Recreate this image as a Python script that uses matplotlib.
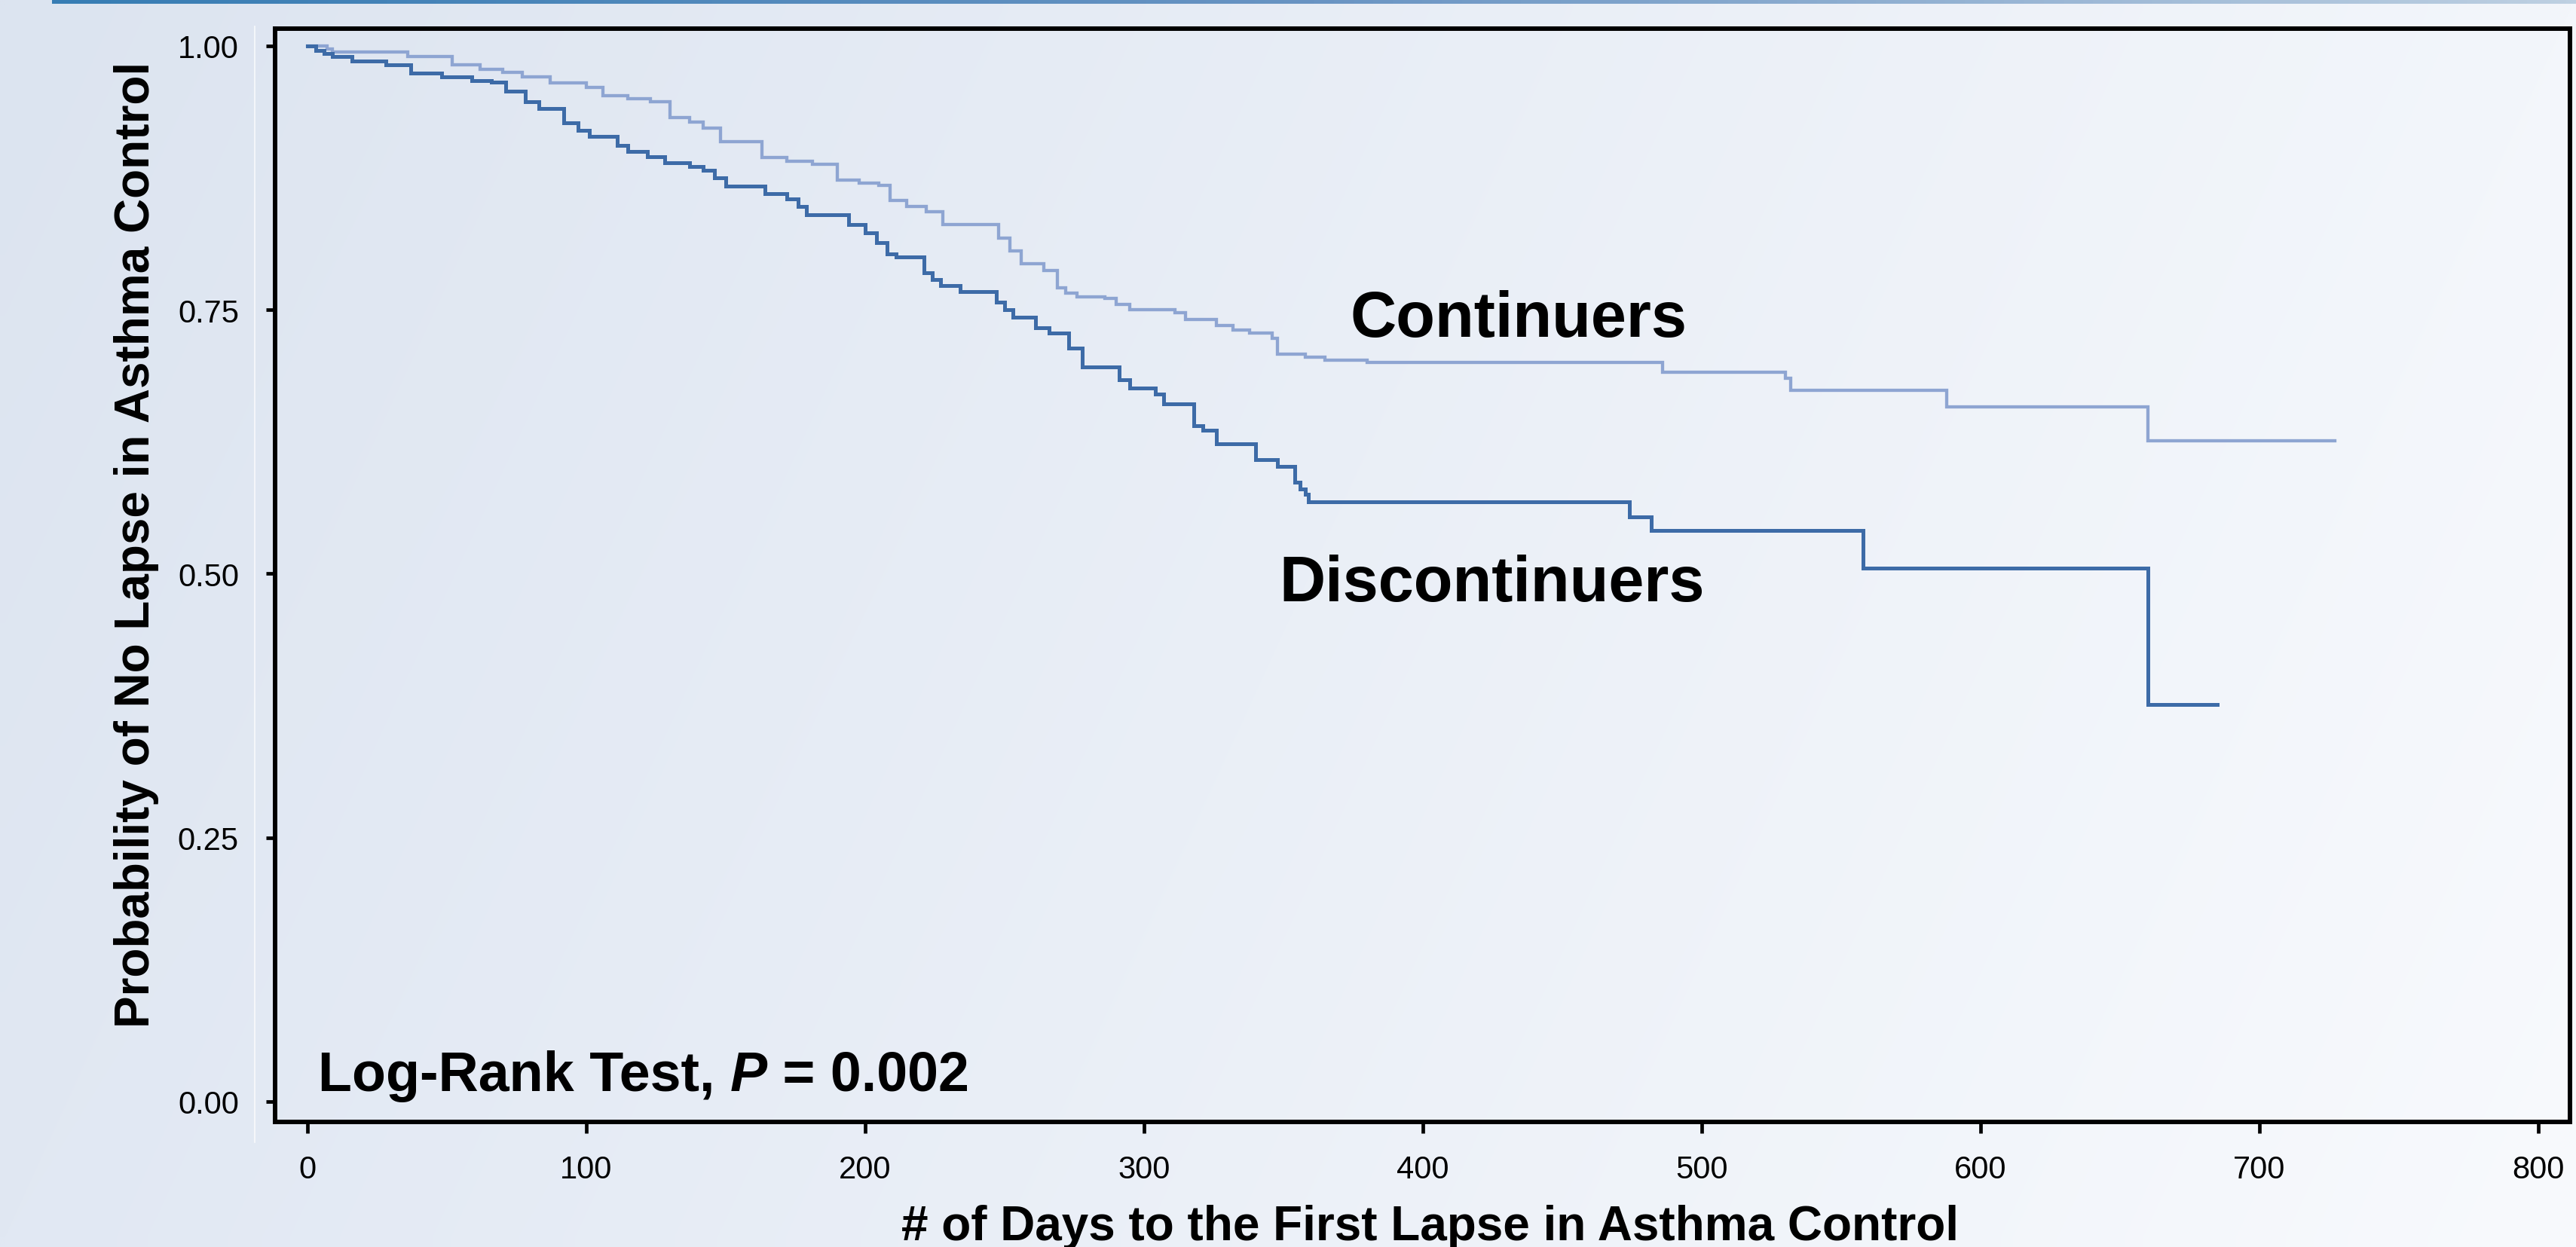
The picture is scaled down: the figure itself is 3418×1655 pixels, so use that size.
import numpy as np
import matplotlib
matplotlib.use("Agg")
import matplotlib.pyplot as plt
from matplotlib.lines import Line2D

# ---------------- data ----------------
cont_days = [0, 7, 9, 36, 52, 62, 70, 77, 87, 100, 106, 115, 123, 130, 137, 142,
             148, 163, 172, 181, 190, 198, 205, 209, 215, 222, 228, 248, 252, 256,
             264, 269, 272, 276, 286, 290, 295, 311, 315, 326, 332, 338, 346, 348,
             358, 365, 380, 486, 530, 532, 588, 660, 727]
cont_surv = [1.000, 0.997, 0.994, 0.990, 0.982, 0.978, 0.975, 0.971, 0.965, 0.961,
             0.953, 0.950, 0.947, 0.932, 0.928, 0.922, 0.909, 0.894, 0.891, 0.888,
             0.873, 0.870, 0.868, 0.854, 0.848, 0.843, 0.831, 0.818, 0.806, 0.794,
             0.787, 0.771, 0.766, 0.762, 0.761, 0.755, 0.750, 0.747, 0.741, 0.735,
             0.731, 0.728, 0.723, 0.708, 0.705, 0.702, 0.700, 0.691, 0.685, 0.674,
             0.658, 0.626, 0.626]

disc_days = [0, 3, 6, 9, 16, 28, 37, 48, 59, 66, 71, 78, 83, 92, 97, 101, 111, 115,
             122, 128, 137, 142, 146, 150, 164, 172, 176, 179, 194, 200, 204, 208,
             211, 221, 224, 227, 234, 247, 250, 253, 261, 266, 273, 278, 291, 295,
             304, 307, 318, 321, 326, 340, 348, 354, 356, 358, 359, 474, 482, 558,
             660, 685]
disc_surv = [1.000, 0.996, 0.993, 0.990, 0.986, 0.982, 0.974, 0.971, 0.967, 0.966,
             0.957, 0.947, 0.941, 0.927, 0.920, 0.914, 0.906, 0.900, 0.895, 0.889,
             0.886, 0.882, 0.875, 0.867, 0.860, 0.855, 0.848, 0.840, 0.831, 0.823,
             0.814, 0.803, 0.800, 0.785, 0.779, 0.773, 0.767, 0.757, 0.750, 0.743,
             0.733, 0.728, 0.714, 0.696, 0.684, 0.676, 0.670, 0.661, 0.640, 0.636,
             0.623, 0.608, 0.602, 0.587, 0.580, 0.575, 0.568, 0.554, 0.541, 0.505,
             0.376, 0.376]

x_ticks = [0, 100, 200, 300, 400, 500, 600, 700, 800]
y_ticks = [0.00, 0.25, 0.50, 0.75, 1.00]
y_tick_labels = ["0.00", "0.25", "0.50", "0.75", "1.00"]

x_label = "# of Days to the First Lapse in Asthma Control"
y_label = "Probability of No Lapse in Asthma Control"

# ---------------- style ----------------
plt.rcParams["font.family"] = ["Liberation Sans", "DejaVu Sans"]

W, H = 3418, 1656
fig = plt.figure(figsize=(W / 100, H / 100), dpi=100)

# background gradient
bg = fig.add_axes([0, 0, 1, 1], zorder=-10)
nx, ny = 256, 64
tl = np.array([220, 228, 240]) / 255
tr = np.array([243, 246, 251]) / 255
bl = np.array([225, 232, 243]) / 255
br = np.array([248, 250, 253]) / 255
u = np.linspace(0, 1, nx)[None, :, None]
v = np.linspace(0, 1, ny)[:, None, None]
grad = (1 - v) * ((1 - u) * tl + u * tr) + v * ((1 - u) * bl + u * br)
bg.imshow(grad, aspect="auto", extent=[0, 1, 0, 1], origin="upper", interpolation="bilinear")
bg.set_xlim(0, 1)
bg.set_ylim(0, 1)
bg.axis("off")

# top thin bar
bar = fig.add_axes([69 / W, 1 - 6 / H, 1 - 69 / W, 6 / H], zorder=-5)
bu = np.linspace(0, 1, 256)
c0 = np.array([55, 125, 180]) / 255
c1 = np.array([105, 148, 195]) / 255
c2 = np.array([190, 208, 226]) / 255
bcols = np.where(bu[:, None] < 0.5,
                 c0 + (c1 - c0) * (bu[:, None] / 0.5),
                 c1 + (c2 - c1) * ((bu[:, None] - 0.5) / 0.5))
bar.imshow(bcols[None, :, :], aspect="auto", extent=[0, 1, 0, 1])
bar.axis("off")

# faint image edge line
fig.add_artist(Line2D([338 / W, 338 / W], [1 - 36 / H, 1 - 1517 / H],
                      transform=fig.transFigure, color="white", lw=1.2, alpha=0.8, zorder=-4))

# main axes
ax = fig.add_axes([365 / W, 1 - 1490 / H, (3410 - 365) / W, (1490 - 39) / H])
ax.set_facecolor("none")

ax.step(cont_days, cont_surv, where="post", color="#8ea5d2", lw=3.1, solid_joinstyle="miter")
ax.step(disc_days, disc_surv, where="post", color="#3d6ba7", lw=3.6, solid_joinstyle="miter")

ax.set_xlim(-11.6, 811.4)
ax.set_ylim(-0.0193, 1.0164)

ax.set_xticks(x_ticks)
ax.set_xticklabels([str(t) for t in x_ticks])
ax.set_yticks(y_ticks)
ax.set_yticklabels(y_tick_labels)

for s in ax.spines.values():
    s.set_linewidth(4.3)
    s.set_color("black")

ax.tick_params(axis="x", direction="out", length=11, width=3.4, pad=20,
               labelsize=30, colors="black", top=False)
ax.tick_params(axis="y", direction="out", length=8.6, width=3.4, pad=26,
               labelsize=30, colors="black", right=False)

# curve labels
ax.text(374, 0.725, "Continuers", fontsize=61, fontweight="bold", ha="left", va="baseline")
ax.text(348.6, 0.4747, "Discontinuers", fontsize=61, fontweight="bold", ha="left", va="baseline")

# log-rank annotation
t1 = ax.text(3.8, 0.0107, "Log-Rank Test, ", fontsize=53, fontweight="bold",
             ha="left", va="baseline")
t2 = ax.annotate("P", xycoords=t1, xy=(1, 0), va="bottom", ha="left",
                 fontsize=53, fontweight="bold", fontstyle="italic")
t3 = ax.annotate(" = 0.002", xycoords=t2, xy=(1, 0), va="bottom", ha="left",
                 fontsize=53, fontweight="bold")

# axis titles
fig.text(181 / W, 1 - 723 / H, y_label, rotation=90, ha="center", va="center",
         fontsize=46, fontweight="bold")
fig.text(1897 / W, 0.006, x_label, ha="center", va="baseline",
         fontsize=46, fontweight="bold")

fig.savefig("out.png", dpi=100)
